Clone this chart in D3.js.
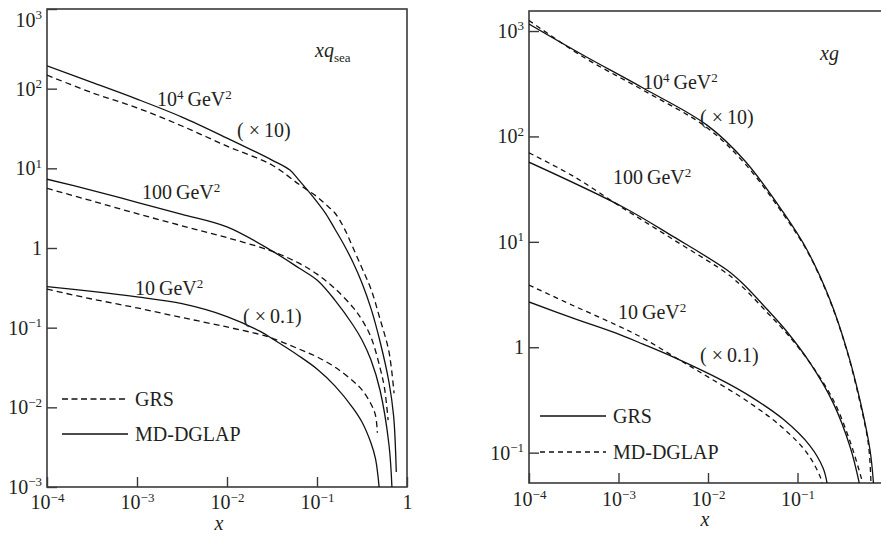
<!DOCTYPE html>
<html>
<head>
<meta charset="utf-8">
<script src="https://cdn.jsdelivr.net/npm/d3@7"></script>
<style>
html, body { margin: 0; padding: 0; background: #ffffff; }
svg text { font-family: "Liberation Serif", "Times New Roman", serif; fill: #231f20; }
</style>
</head>
<body>
<svg id="fig" width="881" height="533"></svg>
<script>
'use strict';

//------------------------------------------------------------
// tick values
//------------------------------------------------------------
const seaTickX = [1e-4, 1e-3, 1e-2, 1e-1, 1];
const seaTickY = [1e-3, 1e-2, 1e-1, 1, 1e1, 1e2, 1e3];
const gluTickX = [1e-4, 1e-3, 1e-2, 1e-1];
const gluTickY = [1e-1, 1, 1e1, 1e2, 1e3];

//------------------------------------------------------------
// left panel: x q_sea
//------------------------------------------------------------
const sea4SolidX = [1e-4, 3.16e-4, 1e-3, 3.16e-3, 0.01, 0.0316, 0.05, 0.063, 0.1, 0.126, 0.158, 0.2, 0.25, 0.316, 0.4, 0.5, 0.63, 0.71, 0.76];
const sea4SolidY = [193, 120, 74, 44, 24, 12.7, 9.5, 7.1, 3.8, 2.67, 1.73, 1.09, 0.667, 0.364, 0.171, 0.068, 0.0208, 0.0078, 0.00154];
const sea4DashX = [1e-4, 3.16e-4, 1e-3, 3.16e-3, 0.01, 0.0316, 0.063, 0.1, 0.126, 0.158, 0.2, 0.25, 0.316, 0.4, 0.5, 0.63, 0.718];
const sea4DashY = [148, 89, 57.5, 34, 19, 11, 6.3, 4.4, 3.5, 2.75, 1.78, 1.02, 0.56, 0.30, 0.13, 0.050, 0.015];

const sea100SolidX = [1e-4, 3.16e-4, 1e-3, 3.16e-3, 0.01, 0.0316, 0.063, 0.1, 0.158, 0.251, 0.316, 0.398, 0.501, 0.631, 0.68];
const sea100SolidY = [7.3, 5.3, 3.75, 2.65, 1.84, 0.92, 0.561, 0.396, 0.222, 0.108, 0.070, 0.0393, 0.0165, 0.00337, 0.001];
const sea100DashX = [1e-4, 3.16e-4, 1e-3, 3.16e-3, 0.01, 0.0316, 0.063, 0.1, 0.158, 0.251, 0.316, 0.398, 0.501, 0.562, 0.617];
const sea100DashY = [5.6, 3.9, 2.7, 1.9, 1.35, 0.91, 0.645, 0.47, 0.31, 0.18, 0.125, 0.076, 0.0316, 0.0175, 0.0069];

const sea10SolidX = [1e-4, 3.16e-4, 1e-3, 3.16e-3, 0.01, 0.0234, 0.0316, 0.063, 0.1, 0.158, 0.251, 0.316, 0.398, 0.447, 0.49];
const sea10SolidY = [0.327, 0.285, 0.243, 0.20, 0.138, 0.0897, 0.073, 0.0442, 0.0303, 0.0186, 0.0098, 0.00655, 0.00356, 0.00225, 0.001];
const sea10DashX = [1e-4, 3.16e-4, 1e-3, 3.16e-3, 0.01, 0.0234, 0.0316, 0.063, 0.1, 0.158, 0.251, 0.316, 0.398, 0.447, 0.468];
const sea10DashY = [0.304, 0.229, 0.177, 0.134, 0.102, 0.082, 0.074, 0.054, 0.043, 0.032, 0.0214, 0.0166, 0.011, 0.0079, 0.0048];

//------------------------------------------------------------
// right panel: x g
//------------------------------------------------------------
const glu4SolidX = [1e-4, 4.0e-4, 1.88e-3, 9.75e-3, 0.0259, 0.0689, 0.128, 0.231, 0.357, 0.499, 0.646, 0.706];
const glu4SolidY = [1165, 592, 288, 128, 58.5, 19.2, 8.36, 2.81, 0.94, 0.315, 0.106, 0.0515];
const glu4DashX = [1e-4, 4.0e-4, 1.88e-3, 9.75e-3, 0.0259, 0.0689, 0.128, 0.231, 0.357, 0.499, 0.62, 0.662];
const glu4DashY = [1260, 570, 275, 121, 55, 18.4, 8.2, 2.75, 0.92, 0.30, 0.12, 0.0515];

const glu100SolidX = [1e-4, 1.12e-3, 4.1e-3, 0.0163, 0.0246, 0.0457, 0.0759, 0.138, 0.251, 0.389, 0.49];
const glu100SolidY = [57, 21.4, 11.2, 5.4, 4.0, 2.29, 1.41, 0.71, 0.295, 0.112, 0.0515];
const glu100DashX = [1e-4, 3.16e-4, 1.12e-3, 4.1e-3, 0.0163, 0.0246, 0.0457, 0.0759, 0.138, 0.251, 0.389, 0.536];
const glu100DashY = [70, 41.7, 20.9, 10.5, 5.0, 3.7, 2.14, 1.35, 0.71, 0.316, 0.126, 0.0515];

const glu10SolidX = [1e-4, 3.1e-4, 9.4e-4, 1.88e-3, 4.06e-3, 0.0147, 0.0294, 0.0689, 0.138, 0.193, 0.214];
const glu10SolidY = [2.69, 1.89, 1.36, 1.07, 0.81, 0.48, 0.344, 0.208, 0.116, 0.0715, 0.0515];
const glu10DashX = [1e-4, 3.1e-4, 9.4e-4, 1.88e-3, 4.06e-3, 8.1e-3, 0.0294, 0.0689, 0.128, 0.178, 0.1875];
const glu10DashY = [3.89, 2.49, 1.63, 1.22, 0.826, 0.582, 0.296, 0.171, 0.099, 0.060, 0.0515];

//------------------------------------------------------------
// helpers
//------------------------------------------------------------
const frameColor = "#3a3a3a";
const inkColor = "#111111";
const supSize = 13;

// write 10^e as "10" + superscript, or "1"
function writePow(textSel, v) {
    textSel.text(null);
    const e = Math.round(Math.log10(v));
    if (e === 0) {
        textSel.append("tspan").text("1");
        return;
    }
    textSel.append("tspan").text("10");
    textSel.append("tspan")
        .attr("dy", -7.5)
        .attr("font-size", supSize)
        .text(e < 0 ? "\u2212" + (-e) : String(e));
}

// "10^4 GeV^2" style label
function writeQ2(g, px, py, base, sup) {
    const t = g.append("text").attr("x", px).attr("y", py).attr("font-size", 20);
    t.append("tspan").text(base);
    if (sup) {
        t.append("tspan").attr("dy", -7.5).attr("font-size", supSize).text(sup);
        t.append("tspan").attr("dy", 7.5).text("\u2009GeV");
    } else {
        t.append("tspan").text("\u2009GeV");
    }
    t.append("tspan").attr("dy", -7.5).attr("font-size", supSize).text("2");
}

function plain(g, px, py, str) {
    g.append("text").attr("x", px).attr("y", py).attr("font-size", 20).text(str);
}

//------------------------------------------------------------
// panel drawing
//------------------------------------------------------------
function drawPanel(svg, cfg) {
    const xs = d3.scaleLog().domain(cfg.xDomain).range([cfg.left, cfg.right]);
    const ys = d3.scaleLog().domain(cfg.yDomain).range([cfg.bottom, cfg.top]);

    const g = svg.append("g");

    // clip for curves
    g.append("clipPath").attr("id", cfg.id + "-clip")
        .append("rect")
        .attr("x", cfg.left).attr("y", cfg.top)
        .attr("width", cfg.right - cfg.left).attr("height", cfg.bottom - cfg.top);

    // axes with inward ticks
    const yAxis = d3.axisLeft(ys).tickValues(cfg.tickY).tickSizeInner(-10).tickSizeOuter(0).tickPadding(5);
    const xAxis = d3.axisBottom(xs).tickValues(cfg.tickX).tickSizeInner(-10).tickSizeOuter(0).tickPadding(cfg.xPad);

    const gy = g.append("g").attr("transform", `translate(${cfg.left},0)`).call(yAxis);
    const gx = g.append("g").attr("transform", `translate(0,${cfg.bottom})`).call(xAxis);

    [gx, gy].forEach((ax) => {
        ax.select(".domain").remove();
        ax.selectAll(".tick line").attr("stroke", frameColor).attr("stroke-width", 1.4);
        ax.selectAll(".tick text")
            .attr("font-size", 20)
            .attr("font-family", "\"Liberation Serif\", \"Times New Roman\", serif")
            .attr("fill", "#231f20")
            .each(function (d) { writePow(d3.select(this), d); });
    });

    // the top y label is pushed down to stay on the page
    if (cfg.topLabelShift) {
        gy.selectAll(".tick text").filter((d) => d === cfg.tickY[cfg.tickY.length - 1])
            .attr("dy", cfg.topLabelShift);
    }

    // frame
    g.append("rect")
        .attr("x", cfg.left).attr("y", cfg.top)
        .attr("width", cfg.frameWidth).attr("height", cfg.bottom - cfg.top)
        .attr("fill", "none").attr("stroke", frameColor).attr("stroke-width", 1.6);

    // curves
    const line = d3.line()
        .x((p) => xs(p[0]))
        .y((p) => ys(p[1]))
        .curve(d3.curveCatmullRom.alpha(0.5));

    g.append("g").attr("clip-path", `url(#${cfg.id}-clip)`)
        .selectAll("path")
        .data(cfg.series)
        .join("path")
        .attr("d", (s) => line(d3.zip(s.x, s.y)))
        .attr("fill", "none")
        .attr("stroke", inkColor)
        .attr("stroke-width", 1.3)
        .attr("stroke-dasharray", (s) => s.dash ? cfg.dashPattern : null);

    // x axis title
    g.append("text")
        .attr("x", cfg.xTitle[0]).attr("y", cfg.xTitle[1])
        .attr("font-size", 20).attr("font-style", "italic")
        .attr("text-anchor", "middle").text("x");

    return g;
}

function drawLegend(g, lx0, lx1, items, dashPattern) {
    items.forEach((it) => {
        g.append("line")
            .attr("x1", lx0).attr("x2", lx1)
            .attr("y1", it.y).attr("y2", it.y)
            .attr("stroke", inkColor).attr("stroke-width", 1.3)
            .attr("stroke-dasharray", it.dash ? dashPattern : null);
        plain(g, lx1 + 7, it.y + 7, it.label);
    });
}

//------------------------------------------------------------
// build figure
//------------------------------------------------------------
window.addEventListener("load", () => {

const svg = d3.select("#fig");

// left panel
const seaPanel = drawPanel(svg, {
    id: "sea",
    left: 47, right: 407, top: 9, bottom: 487,
    frameWidth: 360,
    xDomain: [1e-4, 1], yDomain: [1e-3, 1e3],
    tickX: seaTickX, tickY: seaTickY,
    xPad: 8,
    topLabelShift: "0.85em",
    xTitle: [219, 530],
    dashPattern: "6,4",
    series: [
        {x: sea4SolidX, y: sea4SolidY, dash: false},
        {x: sea4DashX, y: sea4DashY, dash: true},
        {x: sea100SolidX, y: sea100SolidY, dash: false},
        {x: sea100DashX, y: sea100DashY, dash: true},
        {x: sea10SolidX, y: sea10SolidY, dash: false},
        {x: sea10DashX, y: sea10DashY, dash: true}
    ]
});

// panel label x q_sea
const tq = seaPanel.append("text").attr("x", 315).attr("y", 57).attr("font-size", 20);
tq.append("tspan").attr("font-style", "italic").text("xq");
tq.append("tspan").attr("dy", 5).attr("font-size", supSize).text("sea");

writeQ2(seaPanel, 157, 106, "10", "4");
plain(seaPanel, 237, 137, "( \u00d7\u200910)");
writeQ2(seaPanel, 142, 199, "100", null);
writeQ2(seaPanel, 135, 295, "10", null);
plain(seaPanel, 243, 323, "( \u00d7\u20090.1)");

drawLegend(seaPanel, 62, 128, [
    {y: 399, label: "GRS", dash: true},
    {y: 434, label: "MD-DGLAP", dash: false}
], "6,3.5");

// right panel
const gluPanel = drawPanel(svg, {
    id: "glu",
    left: 529, right: 881, top: 11, bottom: 483,
    frameWidth: 400,
    xDomain: [1e-4, Math.pow(10, -0.067)], yDomain: [Math.pow(10, -1.288), Math.pow(10, 3.19)],
    tickX: gluTickX, tickY: gluTickY,
    xPad: 9,
    topLabelShift: null,
    xTitle: [705, 526],
    dashPattern: "5,4",
    series: [
        {x: glu4SolidX, y: glu4SolidY, dash: false},
        {x: glu4DashX, y: glu4DashY, dash: true},
        {x: glu100SolidX, y: glu100SolidY, dash: false},
        {x: glu100DashX, y: glu100DashY, dash: true},
        {x: glu10SolidX, y: glu10SolidY, dash: false},
        {x: glu10DashX, y: glu10DashY, dash: true}
    ]
});

gluPanel.append("text").attr("x", 820).attr("y", 60)
    .attr("font-size", 20).attr("font-style", "italic").text("xg");

writeQ2(gluPanel, 643, 89, "10", "4");
plain(gluPanel, 700, 124, "( \u00d7\u200910)");
writeQ2(gluPanel, 613, 184, "100", null);
writeQ2(gluPanel, 618, 319, "10", null);
plain(gluPanel, 700, 362, "( \u00d7\u20090.1)");

drawLegend(gluPanel, 540, 606, [
    {y: 416, label: "GRS", dash: false},
    {y: 452, label: "MD-DGLAP", dash: true}
], "5,4");

}); // end load
</script>
</body>
</html>
